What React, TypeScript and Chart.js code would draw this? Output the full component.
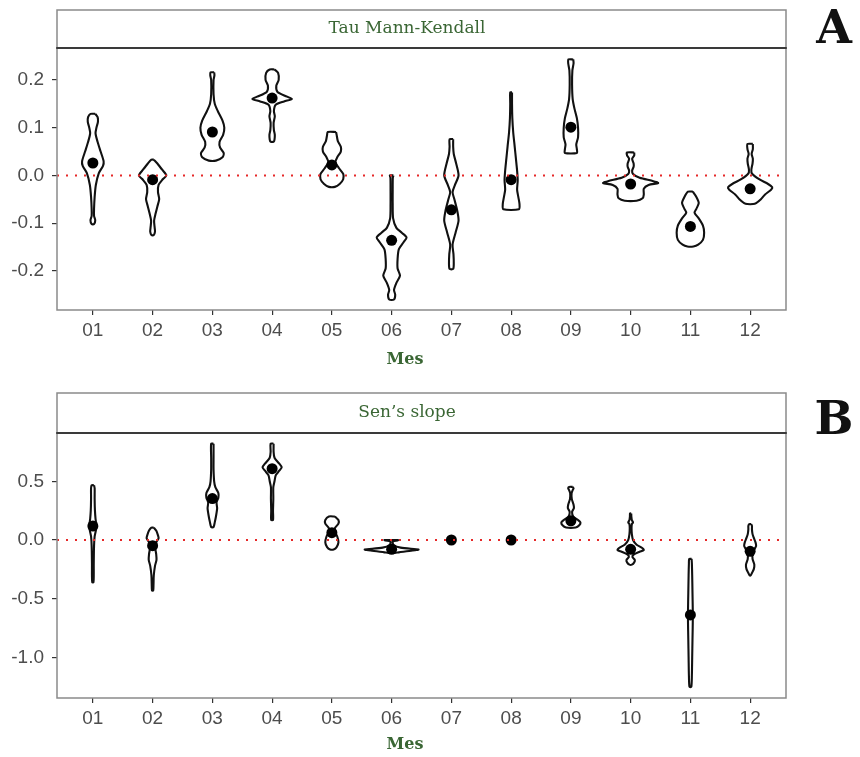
import React, { useEffect, useRef } from "react";
import { Chart, registerables } from "chart.js";

Chart.register(...registerables);

// ---------- data ----------
const months = ["01", "02", "03", "04", "05", "06", "07", "08", "09", "10", "11", "12"];

const tauTicks = [-0.2, -0.1, 0, 0.1, 0.2];
const tauTickLabels = ["-0.2", "-0.1", "0.0", "0.1", "0.2"];
const senTicks = [-1.0, -0.5, 0, 0.5];
const senTickLabels = ["-1.0", "-0.5", "0.0", "0.5"];

const tauMeans = [0.026, -0.009, 0.091, 0.162, 0.022, -0.136, -0.072, -0.009, 0.101, -0.018, -0.107, -0.028];
const senMeans = [0.119, -0.048, 0.353, 0.607, 0.062, -0.079, 0.0, 0.0, 0.164, -0.079, -0.638, -0.096];

// violin outlines: [value, half-width (in month units)], from top to bottom
const tau01 = [[0.129, 0.04], [0.122, 0.08], [0.112, 0.085], [0.1, 0.06], [0.088, 0.045], [0.07, 0.08], [0.05, 0.13], [0.03, 0.18], [0.02, 0.17], [0.005, 0.1], [-0.02, 0.05], [-0.045, 0.03], [-0.07, 0.02], [-0.085, 0.02], [-0.094, 0.04], [-0.102, 0.02]];
const tau02 = [[0.033, 0.02], [0.025, 0.08], [0.012, 0.16], [0.0, 0.23], [-0.008, 0.17], [-0.02, 0.1], [-0.035, 0.09], [-0.05, 0.11], [-0.065, 0.08], [-0.08, 0.05], [-0.095, 0.025], [-0.11, 0.035], [-0.118, 0.04], [-0.125, 0.02]];
const tau03 = [[0.216, 0.03], [0.21, 0.035], [0.2, 0.02], [0.17, 0.02], [0.15, 0.04], [0.135, 0.09], [0.115, 0.17], [0.1, 0.2], [0.085, 0.18], [0.07, 0.12], [0.058, 0.13], [0.047, 0.19], [0.038, 0.17], [0.031, 0.06]];
const tau04 = [[0.222, 0.04], [0.215, 0.1], [0.2, 0.11], [0.188, 0.07], [0.175, 0.09], [0.165, 0.25], [0.16, 0.33], [0.155, 0.2], [0.148, 0.06], [0.135, 0.03], [0.124, 0.045], [0.11, 0.025], [0.095, 0.03], [0.085, 0.045], [0.075, 0.04], [0.071, 0.03]];
const tau05 = [[0.091, 0.07], [0.085, 0.08], [0.072, 0.1], [0.06, 0.15], [0.05, 0.15], [0.038, 0.09], [0.028, 0.06], [0.015, 0.12], [0.003, 0.19], [-0.008, 0.19], [-0.018, 0.13], [-0.024, 0.05]];
const tau06 = [[0.0, 0.03], [-0.005, 0.02], [-0.03, 0.018], [-0.06, 0.018], [-0.09, 0.025], [-0.11, 0.08], [-0.12, 0.17], [-0.13, 0.25], [-0.14, 0.2], [-0.155, 0.12], [-0.175, 0.1], [-0.195, 0.1], [-0.21, 0.14], [-0.225, 0.08], [-0.24, 0.04], [-0.25, 0.06], [-0.26, 0.04]];
const tau07 = [[0.076, 0.03], [0.06, 0.03], [0.045, 0.04], [0.025, 0.08], [0.0, 0.12], [-0.02, 0.06], [-0.035, 0.02], [-0.05, 0.05], [-0.075, 0.1], [-0.095, 0.12], [-0.12, 0.07], [-0.145, 0.02], [-0.165, 0.035], [-0.185, 0.04], [-0.196, 0.03]];
const tau08 = [[0.174, 0.015], [0.15, 0.015], [0.12, 0.02], [0.09, 0.035], [0.06, 0.06], [0.035, 0.08], [0.01, 0.1], [-0.01, 0.11], [-0.03, 0.1], [-0.045, 0.12], [-0.06, 0.14], [-0.071, 0.13]];
const tau09 = [[0.243, 0.04], [0.235, 0.045], [0.22, 0.025], [0.19, 0.02], [0.16, 0.03], [0.14, 0.06], [0.12, 0.1], [0.1, 0.12], [0.08, 0.12], [0.065, 0.09], [0.055, 0.1], [0.047, 0.1]];
const tau10 = [[0.048, 0.06], [0.042, 0.06], [0.035, 0.025], [0.025, 0.05], [0.018, 0.05], [0.01, 0.025], [0.003, 0.04], [-0.005, 0.15], [-0.012, 0.38], [-0.016, 0.46], [-0.02, 0.3], [-0.028, 0.22], [-0.04, 0.22], [-0.048, 0.2], [-0.053, 0.1]];
const tau11 = [[-0.034, 0.04], [-0.045, 0.1], [-0.058, 0.14], [-0.07, 0.1], [-0.078, 0.07], [-0.09, 0.14], [-0.105, 0.21], [-0.12, 0.23], [-0.135, 0.21], [-0.145, 0.13], [-0.149, 0.05]];
const tau12 = [[0.066, 0.045], [0.055, 0.045], [0.045, 0.025], [0.035, 0.045], [0.025, 0.04], [0.012, 0.02], [0.004, 0.03], [-0.008, 0.15], [-0.018, 0.3], [-0.025, 0.37], [-0.03, 0.35], [-0.04, 0.25], [-0.05, 0.18], [-0.058, 0.1], [-0.06, 0.05]];

const sen01 = [[0.466, 0.02], [0.44, 0.03], [0.35, 0.03], [0.25, 0.035], [0.18, 0.045], [0.12, 0.06], [0.08, 0.05], [0.03, 0.03], [-0.05, 0.02], [-0.2, 0.015], [-0.3, 0.015], [-0.36, 0.01]];
const sen02 = [[0.105, 0.02], [0.08, 0.06], [0.04, 0.09], [0.015, 0.1], [-0.02, 0.06], [-0.07, 0.045], [-0.12, 0.06], [-0.17, 0.065], [-0.22, 0.04], [-0.3, 0.02], [-0.38, 0.015], [-0.43, 0.01]];
const sen03 = [[0.82, 0.02], [0.7, 0.02], [0.6, 0.02], [0.5, 0.03], [0.45, 0.05], [0.4, 0.1], [0.36, 0.1], [0.32, 0.07], [0.27, 0.08], [0.2, 0.06], [0.15, 0.04], [0.11, 0.02]];
const sen04 = [[0.82, 0.025], [0.75, 0.025], [0.7, 0.04], [0.65, 0.12], [0.62, 0.16], [0.59, 0.12], [0.55, 0.06], [0.5, 0.04], [0.45, 0.02], [0.35, 0.02], [0.25, 0.015], [0.17, 0.015]];
const sen05 = [[0.2, 0.05], [0.17, 0.11], [0.14, 0.11], [0.1, 0.05], [0.07, 0.05], [0.03, 0.09], [-0.02, 0.11], [-0.06, 0.08], [-0.08, 0.03]];
const sen06 = [[0.0, 0.12], [-0.004, 0.1], [-0.012, 0.02], [-0.04, 0.03], [-0.065, 0.15], [-0.08, 0.45], [-0.09, 0.35], [-0.105, 0.12], [-0.11, 0.05]];
const sen07 = [[0.003, 0.01], [-0.003, 0.01]];
const sen08 = [[0.003, 0.01], [-0.003, 0.01]];
const sen09 = [[0.452, 0.03], [0.44, 0.045], [0.425, 0.03], [0.4, 0.012], [0.35, 0.015], [0.3, 0.045], [0.27, 0.05], [0.24, 0.02], [0.2, 0.04], [0.17, 0.12], [0.15, 0.16], [0.125, 0.14], [0.107, 0.08]];
const sen10 = [[0.226, 0.01], [0.2, 0.012], [0.17, 0.02], [0.15, 0.04], [0.135, 0.02], [0.1, 0.015], [0.05, 0.02], [0.0, 0.04], [-0.04, 0.1], [-0.07, 0.2], [-0.085, 0.22], [-0.1, 0.15], [-0.125, 0.05], [-0.145, 0.03], [-0.17, 0.07], [-0.19, 0.06], [-0.21, 0.02]];
const sen11 = [[-0.161, 0.02], [-0.2, 0.025], [-0.3, 0.03], [-0.45, 0.035], [-0.6, 0.04], [-0.7, 0.04], [-0.85, 0.035], [-1.0, 0.03], [-1.15, 0.025], [-1.25, 0.015]];
const sen12 = [[0.136, 0.015], [0.12, 0.03], [0.09, 0.03], [0.05, 0.04], [0.02, 0.06], [-0.02, 0.09], [-0.05, 0.1], [-0.08, 0.07], [-0.12, 0.04], [-0.16, 0.04], [-0.21, 0.07], [-0.25, 0.06], [-0.28, 0.03], [-0.3, 0.01]];

const tauViolins = [tau01, tau02, tau03, tau04, tau05, tau06, tau07, tau08, tau09, tau10, tau11, tau12];
const senViolins = [sen01, sen02, sen03, sen04, sen05, sen06, sen07, sen08, sen09, sen10, sen11, sen12];

const X_MIN = 0.4;
const X_MAX = 12.6;

// ---------- styling ----------
const GREEN = "#3a6634";
const TICK_TEXT = "#4d4d4d";

function violinDatasets(shapes: number[][][]) {
  return shapes.map((shape, i) => {
    const c = i + 1;
    const right = shape.map(([v, w]) => ({ x: c + w, y: v }));
    const left = shape
      .slice()
      .reverse()
      .map(([v, w]) => ({ x: c - w, y: v }));
    return {
      type: "line" as const,
      data: [...right, ...left, right[0]],
      borderColor: "#111111",
      borderWidth: 2.1,
      borderJoinStyle: "round" as const,
      pointRadius: 0,
      tension: 0.25,
      fill: false,
      order: 2,
    };
  });
}

function makeConfig(opts: {
  shapes: number[][][];
  means: number[];
  ticks: number[];
  tickLabels: string[];
  yMin: number;
  yMax: number;
  padTop: number;
  xHeight: number;
  stripTop: number;
  title: string;
  letter: string;
  letterY: number;
  mesY: number;
}) {
  const decor = {
    id: "decor",
    afterDraw(chart: any) {
      const { ctx } = chart;
      const { left, right, top, bottom } = chart.chartArea;
      ctx.save();
      // strip
      ctx.fillStyle = "#ffffff";
      ctx.fillRect(left, opts.stripTop, right - left, top - opts.stripTop);
      ctx.strokeStyle = "#8a8a8a";
      ctx.lineWidth = 1.5;
      ctx.strokeRect(left, opts.stripTop, right - left, top - opts.stripTop);
      // panel border
      ctx.strokeRect(left, top, right - left, bottom - top);
      // dark line between strip and panel
      ctx.strokeStyle = "#3a3a3a";
      ctx.lineWidth = 2;
      ctx.beginPath();
      ctx.moveTo(left - 0.75, top);
      ctx.lineTo(right + 0.75, top);
      ctx.stroke();
      // strip text
      ctx.fillStyle = GREEN;
      ctx.font = '17px "DejaVu Serif"';
      ctx.textAlign = "center";
      ctx.textBaseline = "middle";
      ctx.fillText(opts.title, 407, (opts.stripTop + top) / 2);
      // axis title
      ctx.font = 'bold 16px "DejaVu Serif"';
      ctx.fillText("Mes", 405, opts.mesY);
      // panel letter
      ctx.fillStyle = "#111111";
      ctx.font = 'bold 46px "DejaVu Serif"';
      ctx.fillText(opts.letter, 834, opts.letterY);
      ctx.restore();
    },
  };

  return {
    type: "line" as const,
    data: {
      datasets: [
        {
          type: "line" as const,
          data: [
            { x: X_MIN, y: 0 },
            { x: X_MAX, y: 0 },
          ],
          borderColor: "rgba(230,40,40,1)",
          borderWidth: 2,
          borderDash: [2, 7],
          pointRadius: 0,
          fill: false,
          order: 0,
        },
        {
          type: "line" as const,
          data: opts.means.map((m, i) => ({ x: i + 1, y: m })),
          showLine: false,
          pointRadius: 5.5,
          pointBackgroundColor: "#000000",
          pointBorderWidth: 0,
          order: 1,
        },
        ...violinDatasets(opts.shapes),
      ],
    },
    options: {
      responsive: false,
      animation: false,
      events: [],
      layout: { padding: { top: opts.padTop, right: 74, left: 0, bottom: 0 } },
      plugins: { legend: { display: false }, tooltip: { enabled: false } },
      scales: {
        x: {
          type: "linear" as const,
          min: X_MIN,
          max: X_MAX,
          afterFit(scale: any) {
            scale.height = opts.xHeight;
          },
          afterBuildTicks(scale: any) {
            scale.ticks = months.map((_, i) => ({ value: i + 1 }));
          },
          border: { display: false },
          grid: { drawOnChartArea: false, drawTicks: true, tickLength: 5, color: "#333333", lineWidth: 1.2 },
          ticks: {
            padding: 4,
            color: TICK_TEXT,
            font: { family: '"Liberation Sans", Arial, sans-serif', size: 19 },
            callback: (v: any) => months[Math.round(v) - 1] ?? "",
            maxRotation: 0,
            autoSkip: false,
          },
        },
        y: {
          type: "linear" as const,
          min: opts.yMin,
          max: opts.yMax,
          afterFit(scale: any) {
            scale.width = 57;
          },
          afterBuildTicks(scale: any) {
            scale.ticks = opts.ticks.map((v) => ({ value: v }));
          },
          border: { display: false },
          grid: { drawOnChartArea: false, drawTicks: true, tickLength: 5, color: "#333333", lineWidth: 1.2 },
          ticks: {
            padding: 8,
            color: TICK_TEXT,
            font: { family: '"Liberation Sans", Arial, sans-serif', size: 19 },
            callback: (v: any) => {
              const idx = opts.ticks.findIndex((t) => Math.abs(t - v) < 1e-9);
              return idx >= 0 ? opts.tickLabels[idx] : "";
            },
            autoSkip: false,
          },
        },
      },
    },
    plugins: [decor],
  };
}

function Panel(props: { config: any; width: number; height: number; top: number }) {
  const ref = useRef<HTMLCanvasElement | null>(null);
  useEffect(() => {
    if (!ref.current) return;
    const chart = new Chart(ref.current, props.config);
    return () => chart.destroy();
  }, []);
  return (
    <canvas
      ref={ref}
      width={props.width}
      height={props.height}
      style={{ position: "absolute", left: 0, top: props.top, width: props.width, height: props.height, display: "block" }}
    />
  );
}

export default function App() {
  const cfgA = makeConfig({
    shapes: tauViolins,
    means: tauMeans,
    ticks: tauTicks,
    tickLabels: tauTickLabels,
    yMin: -0.282,
    yMax: 0.267,
    padTop: 48,
    xHeight: 378 - 310,
    stripTop: 10,
    title: "Tau Mann-Kendall",
    letter: "A",
    letterY: 31,
    mesY: 360,
  });
  const cfgB = makeConfig({
    shapes: senViolins,
    means: senMeans,
    ticks: senTicks,
    tickLabels: senTickLabels,
    yMin: -1.345,
    yMax: 0.911,
    padTop: 55,
    xHeight: 379 - 320,
    stripTop: 15,
    title: "Sen\u2019s slope",
    letter: "B",
    letterY: 44,
    mesY: 367,
  });
  return (
    <div style={{ position: "absolute", left: 0, top: 0, width: 860, height: 757, background: "#ffffff" }}>
      <Panel config={cfgA} width={860} height={378} top={0} />
      <Panel config={cfgB} width={860} height={379} top={378} />
    </div>
  );
}
